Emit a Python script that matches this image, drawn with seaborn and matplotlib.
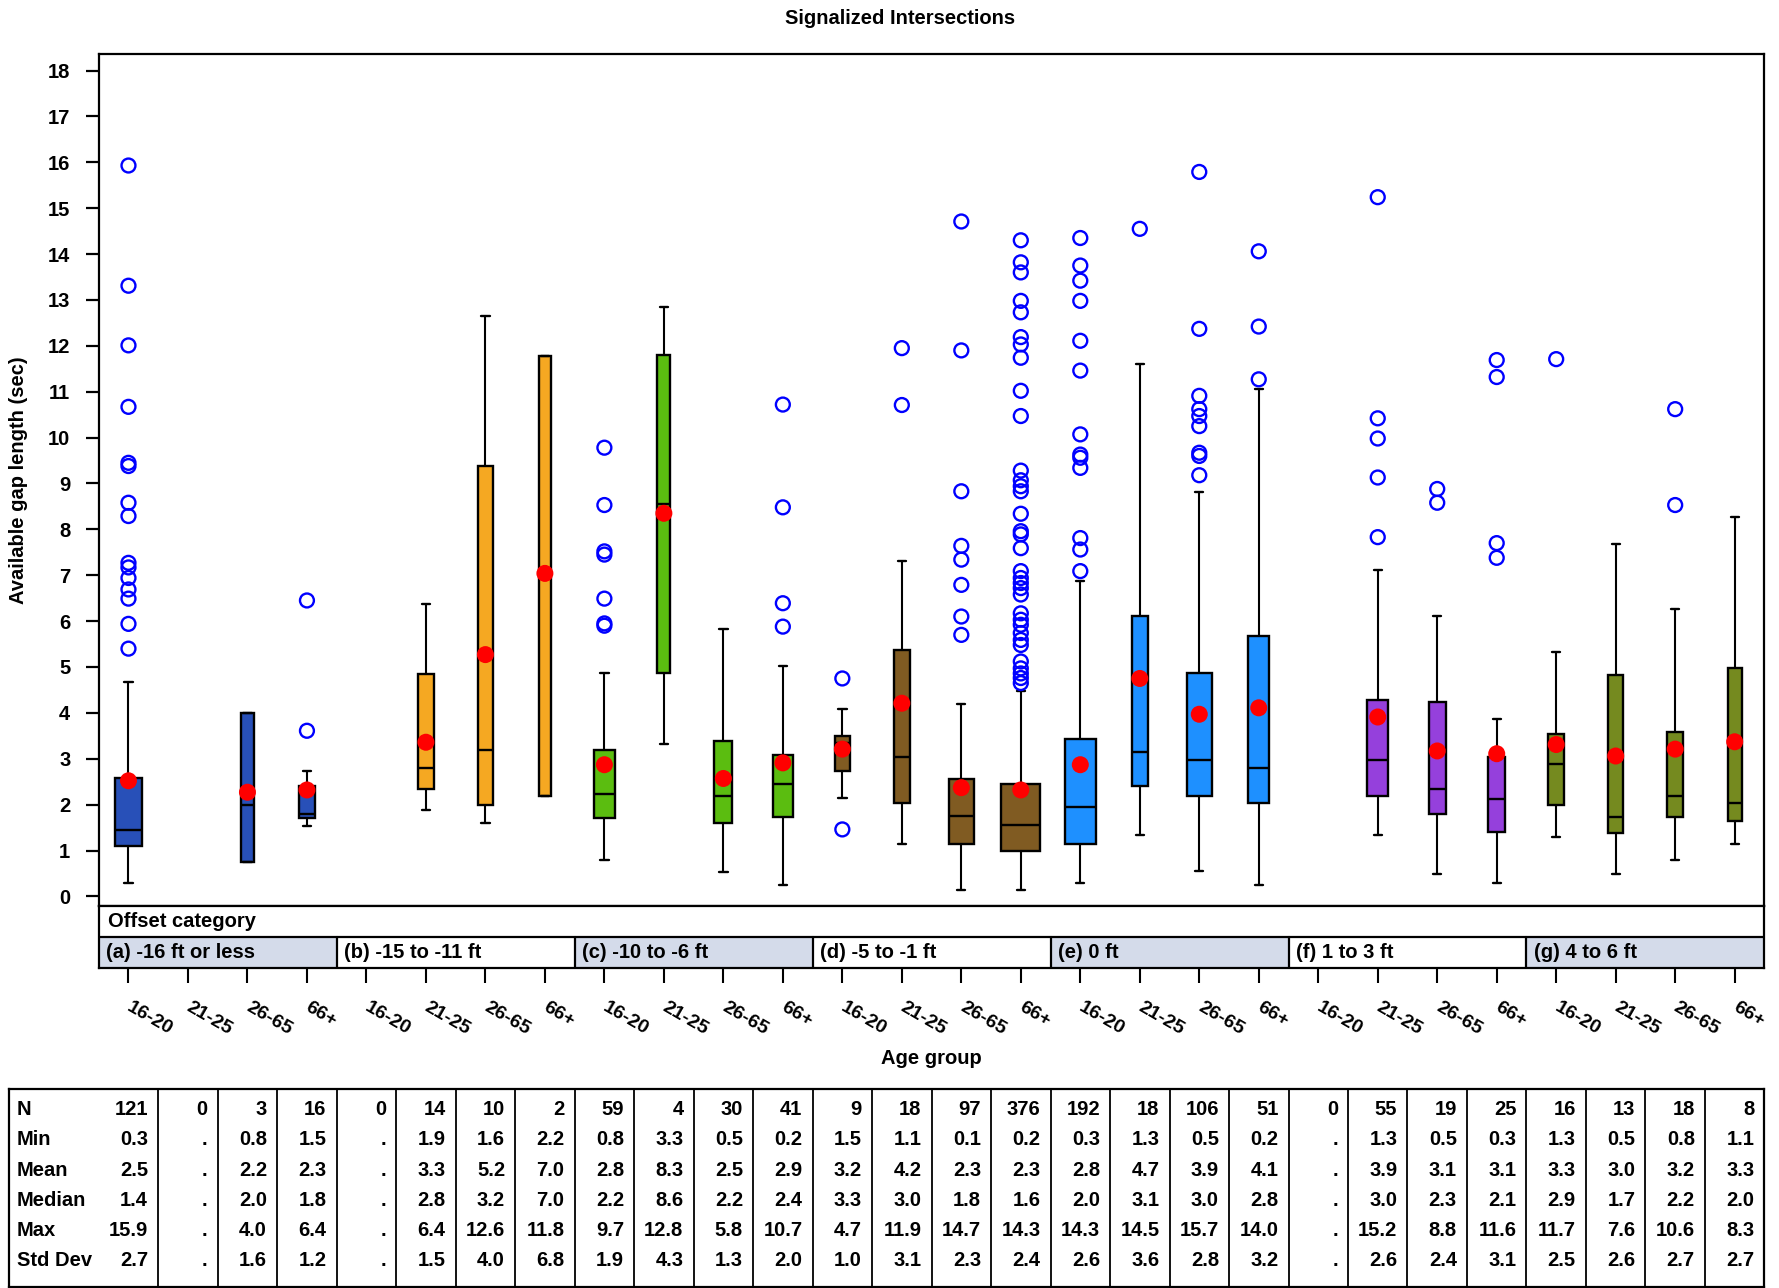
import numpy as np
import pandas as pd
import seaborn as sns
import matplotlib.pyplot as plt
import matplotlib.transforms as mtransforms

# offset groups and age groups
groups = ['(a) -16 ft or less', '(b) -15 to -11 ft', '(c) -10 to -6 ft', '(d) -5 to -1 ft',
          '(e) 0 ft', '(f) 1 to 3 ft', '(g) 4 to 6 ft']
ages = ['16-20', '21-25', '26-65', '66+']
group_colors = ['#2850b8', '#f5a822', '#5bbd10', '#805b22', '#1e90ff', '#9540dc', '#758a1f']

# box statistics (28 categories, nan = no data)
nan = np.nan
n_obs = [121, 0, 3, 16, 0, 14, 10, 2, 59, 4, 30, 41, 9, 18, 97, 376,
         192, 18, 106, 51, 0, 55, 19, 25, 16, 13, 18, 8]
q1 = [1.09, nan, 0.76, 1.70, nan, 2.34, 2.00, 2.19, 1.70, 4.88, 1.60, 1.73, 2.73, 2.04, 1.15, 1.00,
      1.15, 2.40, 2.19, 2.04, nan, 2.19, 1.79, 1.40, 1.99, 1.39, 1.74, 1.64]
med = [1.44, nan, 1.99, 1.79, nan, 2.79, 3.18, 7.00, 2.24, 8.56, 2.19, 2.44, 3.35, 3.03, 1.75, 1.55,
       1.94, 3.14, 2.98, 2.79, nan, 2.98, 2.34, 2.13, 2.88, 1.73, 2.19, 2.04]
q3 = [2.59, nan, 3.99, 2.40, nan, 4.84, 9.37, 11.78, 3.19, 11.80, 3.39, 3.08, 3.49, 5.37, 2.55, 2.44,
      3.44, 6.12, 4.88, 5.68, nan, 4.28, 4.23, 3.04, 3.53, 4.83, 3.59, 4.97]
whislo = [0.30, nan, 0.76, 1.54, nan, 1.89, 1.60, 2.19, 0.80, 3.33, 0.54, 0.25, 2.15, 1.15, 0.15, 0.15,
          0.30, 1.34, 0.55, 0.24, nan, 1.34, 0.49, 0.30, 1.29, 0.49, 0.80, 1.15]
whishi = [4.68, nan, 3.99, 2.74, nan, 6.37, 12.65, 11.78, 4.88, 12.84, 5.83, 5.03, 4.08, 7.32, 4.19, 4.48,
          6.87, 11.60, 8.81, 11.05, nan, 7.11, 6.12, 3.87, 5.32, 7.67, 6.26, 8.27]
means = [2.52, nan, 2.27, 2.32, nan, 3.36, 5.27, 7.04, 2.87, 8.35, 2.57, 2.91, 3.21, 4.21, 2.37, 2.32,
         2.87, 4.75, 3.97, 4.11, nan, 3.91, 3.17, 3.11, 3.31, 3.06, 3.21, 3.37]
outliers = [
    [5.40, 5.94, 6.49, 6.69, 6.94, 7.17, 7.27, 8.29, 8.58, 9.38, 9.45, 10.67, 12.01, 13.31, 15.93],
    [], [], [3.61, 6.45],
    [], [], [], [],
    [5.90, 5.95, 6.49, 7.45, 7.52, 8.53, 9.78], [], [], [5.88, 6.39, 8.48, 10.72],
    [1.46, 4.75], [10.71, 11.95], [5.70, 6.10, 6.79, 7.34, 7.64, 8.83, 11.90, 14.71],
    [4.65, 4.76, 4.86, 4.97, 5.12, 5.48, 5.59, 5.74, 5.92, 6.03, 6.17, 6.58, 6.72, 6.83, 6.94, 7.09,
     7.59, 7.89, 7.96, 8.34, 8.83, 8.94, 9.07, 9.28, 10.47, 11.02, 11.74, 12.03, 12.19, 12.73, 12.98,
     13.60, 13.82, 14.30],
    [7.09, 7.56, 7.81, 9.34, 9.56, 9.63, 10.07, 11.46, 12.11, 12.98, 13.42, 13.75, 14.35],
    [14.55], [9.18, 9.60, 9.67, 10.25, 10.47, 10.62, 10.91, 12.37, 15.79], [11.27, 12.42, 14.06],
    [], [7.83, 9.13, 9.98, 10.42, 15.24], [8.58, 8.88], [7.38, 7.70, 11.32, 11.69],
    [11.71], [], [8.53, 10.62], [],
]

# summary table
row_names = ['N', 'Min', 'Mean', 'Median', 'Max', 'Std Dev']
min_txt = ['0.3', '.', '0.8', '1.5', '.', '1.9', '1.6', '2.2', '0.8', '3.3', '0.5', '0.2', '1.5', '1.1',
           '0.1', '0.2', '0.3', '1.3', '0.5', '0.2', '.', '1.3', '0.5', '0.3', '1.3', '0.5', '0.8', '1.1']
mean_txt = ['2.5', '.', '2.2', '2.3', '.', '3.3', '5.2', '7.0', '2.8', '8.3', '2.5', '2.9', '3.2', '4.2',
            '2.3', '2.3', '2.8', '4.7', '3.9', '4.1', '.', '3.9', '3.1', '3.1', '3.3', '3.0', '3.2', '3.3']
median_txt = ['1.4', '.', '2.0', '1.8', '.', '2.8', '3.2', '7.0', '2.2', '8.6', '2.2', '2.4', '3.3', '3.0',
              '1.8', '1.6', '2.0', '3.1', '3.0', '2.8', '.', '3.0', '2.3', '2.1', '2.9', '1.7', '2.2', '2.0']
max_txt = ['15.9', '.', '4.0', '6.4', '.', '6.4', '12.6', '11.8', '9.7', '12.8', '5.8', '10.7', '4.7',
           '11.9', '14.7', '14.3', '14.3', '14.5', '15.7', '14.0', '.', '15.2', '8.8', '11.6', '11.7',
           '7.6', '10.6', '8.3']
std_txt = ['2.7', '.', '1.6', '1.2', '.', '1.5', '4.0', '6.8', '1.9', '4.3', '1.3', '2.0', '1.0', '3.1',
           '2.3', '2.4', '2.6', '3.6', '2.8', '3.2', '.', '2.6', '2.4', '3.1', '2.5', '2.6', '2.7', '2.7']

sns.set_style('white')
plt.rcParams['font.family'] = ['Liberation Sans', 'DejaVu Sans']
plt.rcParams['font.weight'] = 'bold'
plt.rcParams['text.color'] = 'black'
plt.rcParams['axes.edgecolor'] = 'black'
plt.rcParams['xtick.color'] = 'black'
plt.rcParams['ytick.color'] = 'black'
FS = 14.5

fig = plt.figure(figsize=(17.79, 12.88), dpi=100)

# main boxplot panel
ax = fig.add_axes([0.0555, 0.2962, 0.9363, 0.6615])
stats, pos, widths, fcs = [], [], [], []
for i in range(28):
    if n_obs[i] == 0:
        continue
    stats.append(dict(q1=q1[i], med=med[i], q3=q3[i], whislo=whislo[i], whishi=whishi[i], fliers=[]))
    pos.append(i)
    widths.append(0.17 + 0.025 * np.sqrt(n_obs[i]))
    fcs.append(group_colors[i // 4])

bp = ax.bxp(stats, positions=pos, widths=widths, capwidths=0.14, patch_artist=True, showfliers=False,
            boxprops=dict(linewidth=1.7, edgecolor='black'),
            medianprops=dict(color='black', linewidth=1.7),
            whiskerprops=dict(color='black', linewidth=1.5),
            capprops=dict(color='black', linewidth=1.7))
for patch, c in zip(bp['boxes'], fcs):
    patch.set_facecolor(c)

out_df = pd.DataFrame([(i, v) for i, vals in enumerate(outliers) for v in vals], columns=['pos', 'value'])
sns.scatterplot(data=out_df, x='pos', y='value', ax=ax, s=100, marker='o', linewidth=1.7,
                zorder=4, legend=False)
pts = ax.collections[-1]
pts.set_facecolor('none')
pts.set_edgecolor('blue')

mean_df = pd.DataFrame({'pos': range(28), 'mean': means}).dropna()
sns.scatterplot(data=mean_df, x='pos', y='mean', ax=ax, color='red', s=150, edgecolor='none',
                zorder=5, legend=False)

ax.set_xlim(-0.5, 27.5)
ax.set_ylim(-0.22, 18.35)
ax.set_yticks(range(19))
ax.set_xticks([])
ax.set_xlabel('')
ax.set_ylabel('')
ax.tick_params(axis='y', left=True, direction='out', length=9.5, width=1.6, labelsize=14.5, pad=11)
for sp in ax.spines.values():
    sp.set_linewidth(1.6)

fig.text(0.0105, 0.627, 'Available gap length (sec)', rotation=90, ha='center', va='center',
         fontsize=FS, fontweight='bold')
fig.text(0.506, 0.986, 'Signalized Intersections', ha='center', va='center', fontsize=FS,
         fontweight='bold')

# offset category strip
ax_s = fig.add_axes([0.0555, 0.2486, 0.9363, 0.0476])
ax_s.set_xlim(-0.5, 27.5)
ax_s.set_ylim(0, 2)
for g in range(7):
    left = 4 * g - 0.5
    if g % 2 == 0:
        ax_s.axvspan(left, left + 4, ymin=0, ymax=0.5, color='#d4dbea', lw=0)
    if g > 0:
        ax_s.axvline(left, ymin=0, ymax=0.5, color='black', lw=1.6)
    ax_s.text(left + 0.12, 0.5, groups[g], ha='left', va='center', fontsize=FS, fontweight='bold')
ax_s.axhline(1, color='black', lw=1.6)
ax_s.text(-0.5 + 0.15, 1.5, 'Offset category', ha='left', va='center', fontsize=FS, fontweight='bold')
ax_s.set_yticks([])
ax_s.set_xticks(range(28))
ax_s.set_xticklabels(ages * 7, rotation=-30, ha='left', va='top', fontsize=14, fontweight='bold')
ax_s.tick_params(axis='x', bottom=True, direction='out', length=10.5, width=1.5, pad=12)
shift = mtransforms.ScaledTranslation(3 / 72, 0, fig.dpi_scale_trans)
for lab in ax_s.get_xticklabels():
    lab.set_rotation_mode('anchor')
    lab.set_transform(lab.get_transform() + shift)
for sp in ax_s.spines.values():
    sp.set_linewidth(1.6)

fig.text(0.5237, 0.178, 'Age group', ha='center', va='center', fontsize=FS, fontweight='bold')

# summary table
ax_t = fig.add_axes([0.0051, 0.0011, 0.9867, 0.1533])
ax_t.set_xlim(-2.007, 27.5)
ax_t.set_ylim(6.54, 0)
ax_t.vlines(np.arange(0.5, 27, 1), 0, 6.54, color='black', lw=1.3)
rows = [[str(n) for n in n_obs], min_txt, mean_txt, median_txt, max_txt, std_txt]
for r, (name, vals) in enumerate(zip(row_names, rows)):
    y = 0.68 + r
    ax_t.text(-2.007 + 0.13, y, name, ha='left', va='center', fontsize=FS, fontweight='bold')
    for i, v in enumerate(vals):
        ax_t.text(i + 0.5 - 0.17, y, v, ha='right', va='center', fontsize=FS, fontweight='bold')
ax_t.set_xticks([])
ax_t.set_yticks([])
for sp in ax_t.spines.values():
    sp.set_linewidth(1.6)

fig.savefig('out.png', dpi=100)
